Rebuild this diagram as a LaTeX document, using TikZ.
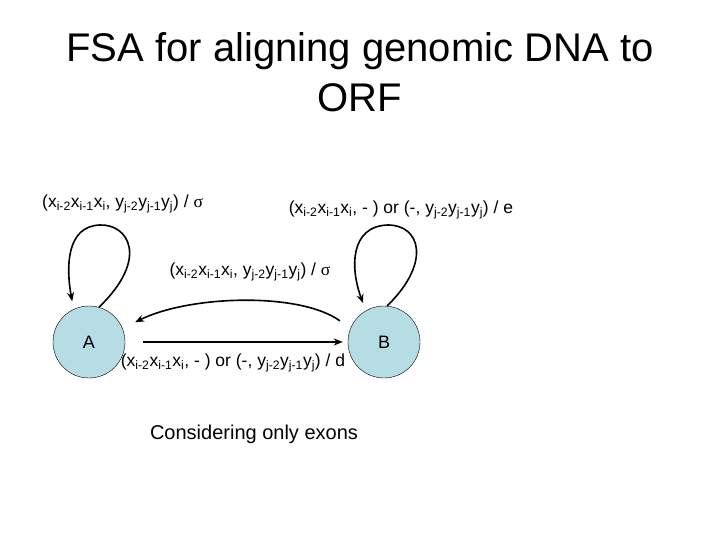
\documentclass[tikz,border=0pt]{standalone}
\usepackage{fontspec}
\setmainfont{Liberation Sans}
\newfontfamily\symfont{Liberation Serif}
\usetikzlibrary{arrows.meta}
\definecolor{statefill}{RGB}{183,221,228}
\newcommand{\sub}[1]{\textsubscript{#1}}
\newcommand{\xtrip}{x\sub{i-2}x\sub{i-1}x\sub{i}}
\newcommand{\ytrip}{y\sub{j-2}y\sub{j-1}y\sub{j}}

\begin{document}
\begin{tikzpicture}[x=1pt,y=-1pt]
\tikzset{state/.style={circle,draw,thin,fill=statefill,minimum size=72pt,inner sep=0pt,font=\fontsize{18}{20}\selectfont},
  trans/.style={line width=1.6pt,-{Stealth[length=9pt,width=7pt]}},
  lab/.style={font=\fontsize{17.5}{20}\selectfont,inner sep=0pt}};
\useasboundingbox (0,0) rectangle (720,540);
\node[font=\fontsize{40}{50}\selectfont,align=center] (title) at (360,72) {FSA for aligning genomic DNA to\\ORF};
    \node[state] (A) at (89,342) {A};
    \node[state] (B) at (384,342) {B};
    % self loops
    \draw[trans,shorten >=8pt] (A.74) .. controls (150,258) and (128,224) .. (100,225) .. controls (66,226) and (66,268) .. (A.115);
    \draw[trans,shorten >=8pt] (B.85) .. controls (432,262) and (420,225) .. (388,225) .. controls (350,226) and (350,268) .. (B.120);
    % between states
    \draw[trans,shorten <=13pt,shorten >=14pt] (B.158) .. controls (300,292) and (190,295) .. (A.22);
    \draw[trans,shorten <=18pt,shorten >=5pt] (A.east) -- (B.west);
    % labels
    \node[lab,anchor=west] (l1) at (42,204) {(\xtrip, \ytrip) / {\symfont σ}};
    \node[lab] (l2) at (401,210) {(\xtrip, - ) or (-, \ytrip) / e};
    \node[lab] (l3) at (250,272) {(\xtrip, \ytrip) / {\symfont σ}};
    \node[lab] (l4) at (233,363) {(\xtrip, - ) or (-, \ytrip) / d};
    \node[font=\fontsize{20}{24}\selectfont] (note) at (254,434) {Considering only exons};
\end{tikzpicture}
\end{document}
